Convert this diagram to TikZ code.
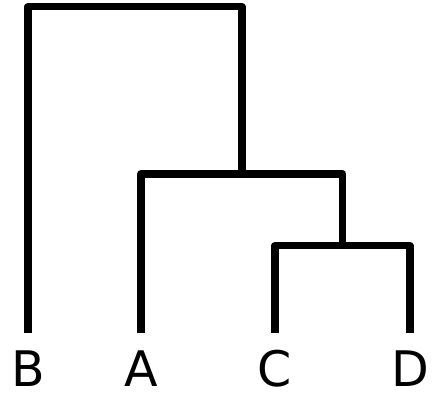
\documentclass[tikz,border=0pt]{standalone}
\usepackage{fontspec}
\setmainfont{DejaVu Sans}
\begin{document}
\begin{tikzpicture}[x=1pt,y=1pt,
  branch/.style={line width=7.5pt,line join=round,line cap=butt},
  leaflabel/.style={anchor=base,inner sep=0pt,font=\fontsize{49}{58}\selectfont}]
\useasboundingbox (0,0) rectangle (432,398);
% leaf labels
\node[leaflabel] (B) at (28,11) {B};
\node[leaflabel] (A) at (141,11) {A};
\node[leaflabel] (C) at (275,11) {C};
\node[leaflabel] (D) at (410,11) {D};
% leaf ends
\coordinate (bB) at (28,65);
\coordinate (bA) at (141,65);
\coordinate (bC) at (275,65);
\coordinate (bD) at (410,65);
% merge points
\coordinate (mCD) at (342.5,152.3);
\coordinate (mACD) at (242,224);
\coordinate (root) at (135,391.3);
% C-D cluster
\draw[branch] (bC) |- (mCD) -| (bD);
% A-(CD) cluster
\draw[branch] (bA) |- (mACD) -| (mCD);
% root
\draw[branch] (bB) |- (root) -| (mACD);
\end{tikzpicture}
\end{document}
